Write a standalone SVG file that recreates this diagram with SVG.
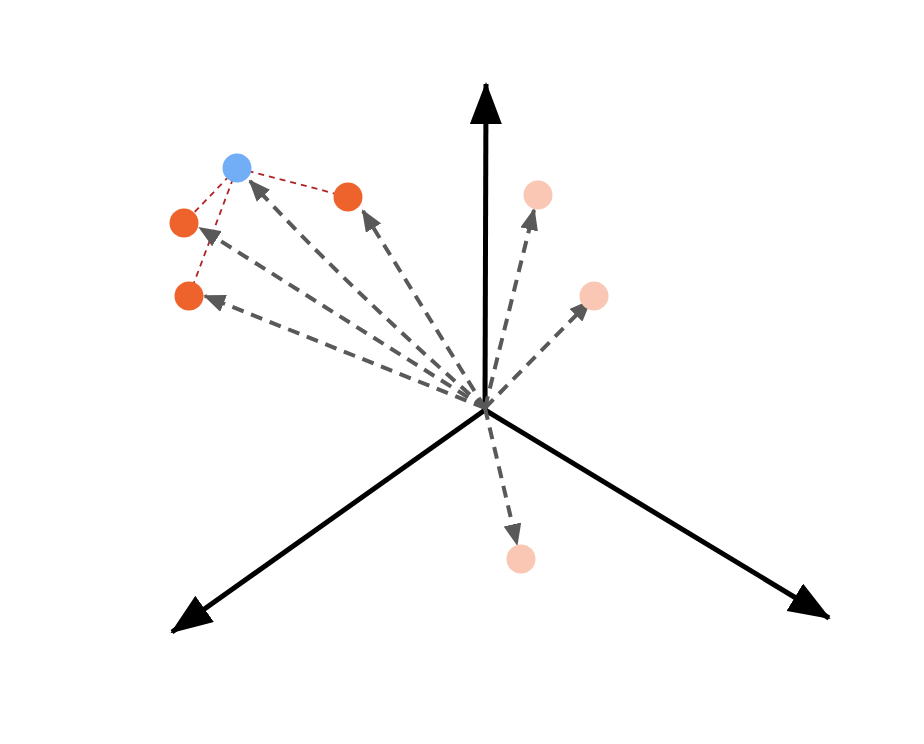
<svg xmlns="http://www.w3.org/2000/svg" width="924" height="744" viewBox="0 0 924 744">
<style>
.ax{stroke:#000;stroke-width:5;fill:none}
.vec{stroke:#595959;stroke-width:4;stroke-dasharray:12,8;fill:none}
.nb{stroke:#B22222;stroke-width:1.8;stroke-dasharray:6,5;fill:none}
.o{fill:#EE622B}.b{fill:#72AEF5}.p{fill:#F9C7B3}
</style>
<defs>
<marker id="ah" markerUnits="userSpaceOnUse" markerWidth="42" markerHeight="32" refX="40" refY="16" orient="auto"><path d="M0,0 L42,16 L0,32 Z" fill="#000"/></marker>
<marker id="gh" markerUnits="userSpaceOnUse" markerWidth="22" markerHeight="18" refX="20" refY="9" orient="auto"><path d="M0,0 L22,9 L0,18 Z" fill="#595959"/></marker>
</defs>
<rect width="924" height="744" fill="#fff"/>
<g id="axes">
<path class="ax" d="M485,410 L486,84" marker-end="url(#ah)"/>
<path class="ax" d="M485,410 L172,632" marker-end="url(#ah)"/>
<path class="ax" d="M485,410 L829,618" marker-end="url(#ah)"/>
</g>
<g id="neighbors">
<line class="nb" x1="237" y1="168" x2="348" y2="197"/>
<line class="nb" x1="237" y1="168" x2="184" y2="223"/>
<line class="nb" x1="237" y1="168" x2="189" y2="296"/>
</g>
<g id="connectors">
<path class="vec" d="M485,408 Q340,280 250,181" marker-end="url(#gh)"/>
<path class="vec" d="M485,408 L363,211" marker-end="url(#gh)"/>
<path class="vec" d="M485,408 L200,228" marker-end="url(#gh)"/>
<path class="vec" d="M485,408 L205,296" marker-end="url(#gh)"/>
<path class="vec" d="M485,408 L534,210" marker-end="url(#gh)"/>
<path class="vec" d="M485,408 L590,301" marker-end="url(#gh)"/>
<path class="vec" d="M485,408 L517,544" marker-end="url(#gh)"/>
</g>
<g id="n-blue"><circle class="b" cx="237" cy="168" r="14.5"/></g>
<g id="n-o1"><circle class="o" cx="348" cy="197" r="14.5"/></g>
<g id="n-o2"><circle class="o" cx="184" cy="223" r="14.5"/></g>
<g id="n-o3"><circle class="o" cx="189" cy="296" r="14.5"/></g>
<g id="n-p1"><circle class="p" cx="538" cy="195" r="14.5"/></g>
<g id="n-p2"><circle class="p" cx="594" cy="296" r="14.5"/></g>
<g id="n-p3"><circle class="p" cx="521" cy="559" r="14.5"/></g>
</svg>
